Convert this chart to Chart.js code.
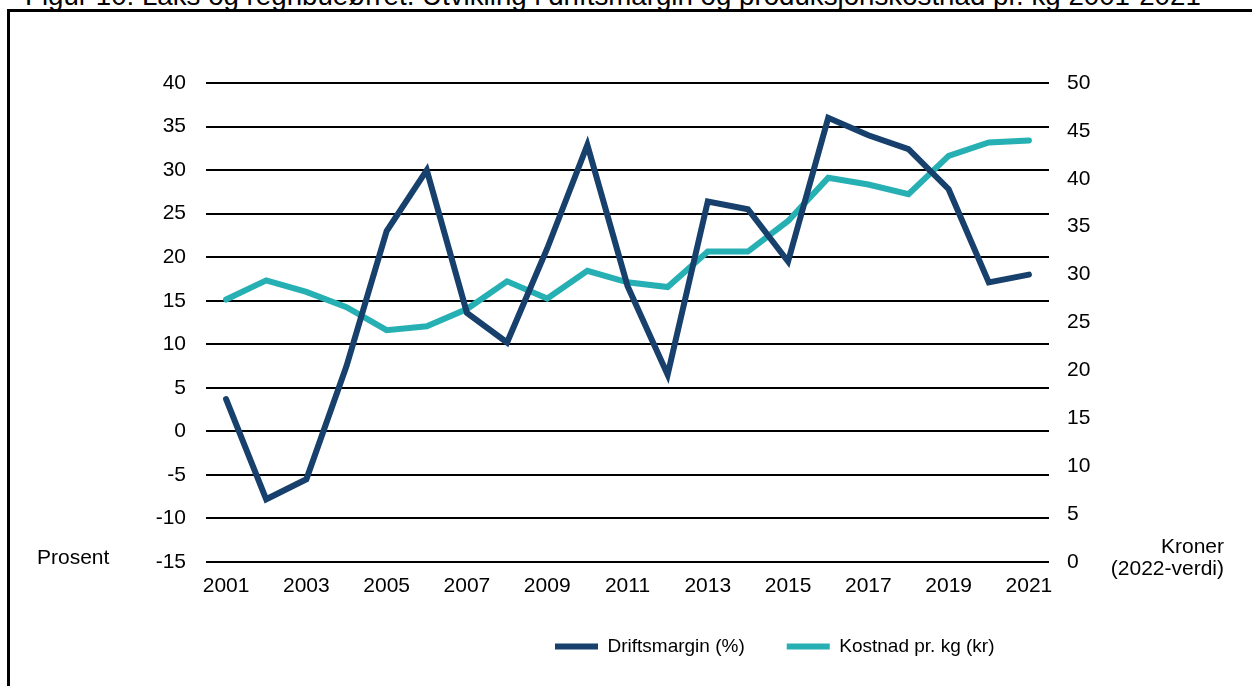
<!DOCTYPE html>
<html lang="no">
<head>
<meta charset="utf-8">
<title>Driftsmargin og kostnad pr. kg</title>
<script src="https://cdn.jsdelivr.net/npm/chart.js@4.4.1/dist/chart.umd.min.js"></script>
<style>
  html, body { margin: 0; padding: 0; background: #fff; overflow: hidden; }
  body { width: 1252px; height: 686px; position: relative; font-family: Arial, "Liberation Sans", sans-serif; color: #000; }
  #frame { position: absolute; left: 7px; top: 9px; width: 2000px; height: 2000px;
           border-left: 3px solid #000; border-top: 3px solid #000; }
  #title { position: absolute; left: 25px; top: -18px; font-size: 27.7px; line-height: 28px; white-space: nowrap; color: #000; }
  #chart { position: absolute; left: 0; top: 0; }
  .axis-label { position: absolute; font-size: 21px; line-height: 21px; white-space: nowrap; }
  #leftLabel { left: 37px; top: 546px; }
  #rightLabel { right: 28px; top: 535px; text-align: right; line-height: 22px; }
</style>
</head>
<body>
<div id="title">Figur 10: Laks og regnbueørret. Utvikling i driftsmargin og produksjonskostnad pr. kg 2001-2021</div>
<div id="frame"></div>
<canvas id="chart" width="1252" height="686"></canvas>
<div id="leftLabel" class="axis-label">Prosent</div>
<div id="rightLabel" class="axis-label">Kroner<br>(2022-verdi)</div>
<script>
const years = ['2001', '2002', '2003', '2004', '2005', '2006', '2007', '2008', '2009', '2010', '2011',
               '2012', '2013', '2014', '2015', '2016', '2017', '2018', '2019', '2020', '2021'];
// driftsmargin i prosent (venstre akse)
const driftsmargin = [3.7, -7.8, -5.5, 7.5, 23.0, 30.0, 13.6, 10.2, 21.0, 32.9, 16.7,
                      6.5, 26.4, 25.5, 19.5, 36.0, 34.0, 32.4, 27.8, 17.1, 18.0];
// kostnad pr. kg i kroner, 2022-verdi (høyre akse)
const kostnad = [27.4, 29.4, 28.2, 26.6, 24.2, 24.6, 26.4, 29.3, 27.5, 30.4, 29.2,
                 28.7, 32.4, 32.4, 35.6, 40.1, 39.4, 38.4, 42.4, 43.8, 44.0];
const seriesNames = ['Driftsmargin (%)', 'Kostnad pr. kg (kr)'];
const leftTicks = { min: -15, max: 40, step: 5 };
const rightTicks = { min: 0, max: 50, step: 5 };

const darkBlue = '#17406d';
const teal = '#26b0b4';
const fontFamily = 'Arial, "Liberation Sans", sans-serif';

// put the legend where the reference has it instead of centred under the axis
const legendNudge = {
    id: 'legendNudge',
    afterLayout(chart) {
        const lg = chart.legend;
        if (!lg) return;
        const dx = 555 - (lg.left + lg.options.labels.padding);
        const dy = 595 - lg.top;
        lg.left += dx;
        lg.right += dx;
        lg.top += dy;
        lg.bottom += dy;
    }
};

function lineSet(label, data, color, axis) {
    return {
        label: label,
        data: data,
        yAxisID: axis,
        borderColor: color,
        backgroundColor: color,
        borderWidth: 6,
        borderCapStyle: 'round',
        borderJoinStyle: 'miter',
        pointRadius: 0,
        pointHoverRadius: 0,
        tension: 0,
        fill: false
    };
}

new Chart(document.getElementById('chart'), {
    type: 'line',
    data: {
        labels: years,
        datasets: [
            lineSet(seriesNames[0], driftsmargin, darkBlue, 'y'),
            lineSet(seriesNames[1], kostnad, teal, 'y1')
        ]
    },
    plugins: [legendNudge],
    options: {
        responsive: false,
        animation: false,
        devicePixelRatio: 1,
        layout: { padding: { left: 146, right: 123, top: 83, bottom: 13 } },
        plugins: {
            tooltip: { enabled: false },
            legend: {
                position: 'bottom',
                align: 'start',
                labels: {
                    usePointStyle: true,
                    pointStyle: 'line',
                    pointStyleWidth: 43,
                    boxWidth: 43,
                    padding: 42,
                    color: '#000',
                    font: { family: fontFamily, size: 19 }
                }
            }
        },
        scales: {
            x: {
                type: 'category',
                offset: true,
                grid: { display: false, drawTicks: false },
                border: { display: false },
                ticks: {
                    autoSkip: false,
                    maxRotation: 0,
                    padding: 12,
                    color: '#000',
                    font: { family: fontFamily, size: 21 },
                    callback: (v, i) => (i % 2 === 0 ? years[i] : '')
                },
                afterFit: (s) => { s.height = 40; }
            },
            y: {
                position: 'left',
                min: leftTicks.min,
                max: leftTicks.max,
                grid: { color: '#000', lineWidth: 2, drawTicks: false },
                border: { display: false },
                ticks: {
                    stepSize: leftTicks.step,
                    padding: 20,
                    color: '#000',
                    font: { family: fontFamily, size: 21 }
                },
                afterFit: (s) => { s.width = 60; }
            },
            y1: {
                position: 'right',
                min: rightTicks.min,
                max: rightTicks.max,
                grid: { display: false, drawOnChartArea: false, drawTicks: false },
                border: { display: false },
                ticks: {
                    stepSize: rightTicks.step,
                    padding: 18,
                    color: '#000',
                    font: { family: fontFamily, size: 21 }
                },
                afterFit: (s) => { s.width = 80; }
            }
        }
    }
});
</script>
</body>
</html>
